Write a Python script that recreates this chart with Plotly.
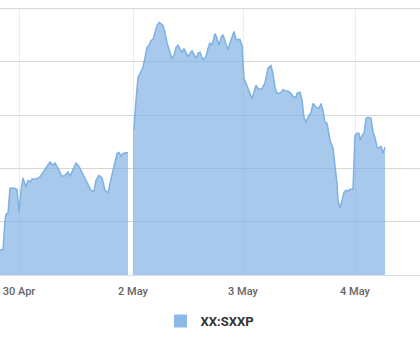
import plotly.graph_objects as go

# ordinal session position (Highcharts-style ordinal axis) and index level
# first block: 27/30 Apr sessions
pos_a = [0, 3, 5, 6, 8, 10, 14, 17, 19, 21, 23, 26, 28, 30, 32, 36, 40, 43, 47, 50,
         53, 55, 58, 62, 65, 68, 70, 73, 76, 79, 82, 85, 88, 91, 94, 96, 99, 102, 105, 108,
         110, 113, 115, 117, 119, 121, 123, 126, 128]
level_a = [382.47, 382.47, 383.03, 383.14, 383.16, 383.63, 383.63, 383.61, 383.18, 383.59,
           383.82, 383.65, 383.78, 383.74, 383.80, 383.80, 383.84, 383.93, 384.04, 384.12,
           384.06, 384.10, 384.00, 383.85, 383.87, 383.93, 383.85, 383.97, 384.10, 384.04,
           383.93, 383.82, 383.69, 383.59, 383.57, 383.78, 383.87, 383.82, 383.59, 383.54,
           383.72, 383.97, 384.15, 384.28, 384.30, 384.23, 384.28, 384.30, 384.30]

# second block: 2-4 May sessions
pos_b = [133, 134, 136, 138, 140, 143, 145, 147, 149, 151, 153, 155, 157, 159, 161, 163, 165, 167, 170, 172,
         174, 176, 178, 180, 182, 184, 186, 188, 190, 192, 194, 196, 198, 200, 203, 206, 208, 210, 212, 215,
         217, 219, 221, 223, 226, 228, 230, 232, 234, 236, 240, 242, 244, 246, 248, 250, 252, 254, 256, 259,
         262, 265, 268, 271, 273, 275, 277, 280, 283, 285, 288, 291, 293, 296, 297, 300, 302, 304, 306, 308,
         311, 313, 316, 319, 321, 323, 325, 327, 330, 333, 335, 337, 338, 340, 342, 344, 346, 348, 350, 353,
         355, 357, 359, 360, 362, 364, 366, 368, 371, 373, 375, 377, 379, 381, 383, 385]
level_b = [384.75, 384.75, 385.28, 385.71, 385.78, 385.90, 386.08, 386.27, 386.31, 386.40,
           386.42, 386.57, 386.68, 386.74, 386.72, 386.68, 386.55, 386.36, 386.18, 386.06,
           386.12, 386.27, 386.31, 386.25, 386.18, 386.25, 386.18, 386.10, 386.16, 386.21,
           386.14, 386.06, 386.16, 386.18, 386.04, 386.10, 386.25, 386.36, 386.31, 386.53,
           386.44, 386.31, 386.46, 386.51, 386.33, 386.23, 386.36, 386.49, 386.57, 386.42,
           386.42, 386.31, 385.69, 385.60, 385.50, 385.41, 385.31, 385.43, 385.56, 385.48,
           385.50, 385.61, 385.88, 385.93, 385.78, 385.52, 385.41, 385.41, 385.48, 385.46,
           385.45, 385.41, 385.35, 385.33, 385.41, 385.43, 385.28, 384.96, 384.87, 384.96,
           385.05, 385.22, 385.15, 385.13, 385.22, 385.09, 384.87, 384.85, 384.53, 384.38,
           384.02, 383.72, 383.40, 383.25, 383.40, 383.55, 383.59, 383.57, 383.61, 383.61,
           384.62, 384.66, 384.66, 384.53, 384.62, 384.66, 384.94, 384.96, 384.94, 384.68,
           384.58, 384.40, 384.38, 384.42, 384.28, 384.40]

tick_pos = [19, 133, 243, 355]
tick_labels = ["30 Apr", "2 May", "3 May", "4 May"]
series_name = "XX:SXXP"

line_color = "#7fb1e3"
fill_color = "rgba(120,172,224,0.65)"

fig = go.Figure()
for xs, ys in ((pos_a, level_a), (pos_b, level_b)):
    fig.add_trace(go.Scatter(
        x=xs, y=ys, mode="lines", fill="tozeroy",
        line=dict(color=line_color, width=1.5), fillcolor=fill_color,
        showlegend=False, hoverinfo="skip"))
fig.add_trace(go.Scatter(
    x=[None], y=[None], mode="markers", name=series_name,
    marker=dict(symbol="square", size=13, color="#8db9e6")))

fig.update_layout(
    width=420, height=350,
    margin=dict(l=0, r=0, t=7, b=75),
    paper_bgcolor="white", plot_bgcolor="white",
    showlegend=True,
    legend=dict(orientation="h", x=0.5, xanchor="center", y=-0.172, yanchor="middle",
                font=dict(family="Roboto, sans-serif", size=13, color="#333333", weight="bold"),
                itemwidth=30),
    xaxis=dict(range=[0, 420], tickvals=tick_pos, ticktext=tick_labels,
               showgrid=True, gridcolor="#ececec", gridwidth=1,
               zeroline=False, showline=True, linecolor="#d8dde6", linewidth=1,
               ticks="", ticklabelstandoff=6,
               tickfont=dict(family="Roboto, sans-serif", size=11, color="#666666", weight=500)),
    yaxis=dict(range=[382, 387.03], tickvals=[382, 383, 384, 385, 386, 387], showticklabels=False,
               showgrid=True, gridcolor="#d6d6d6", gridwidth=1, zeroline=False),
)

fig.write_html("out.html")
